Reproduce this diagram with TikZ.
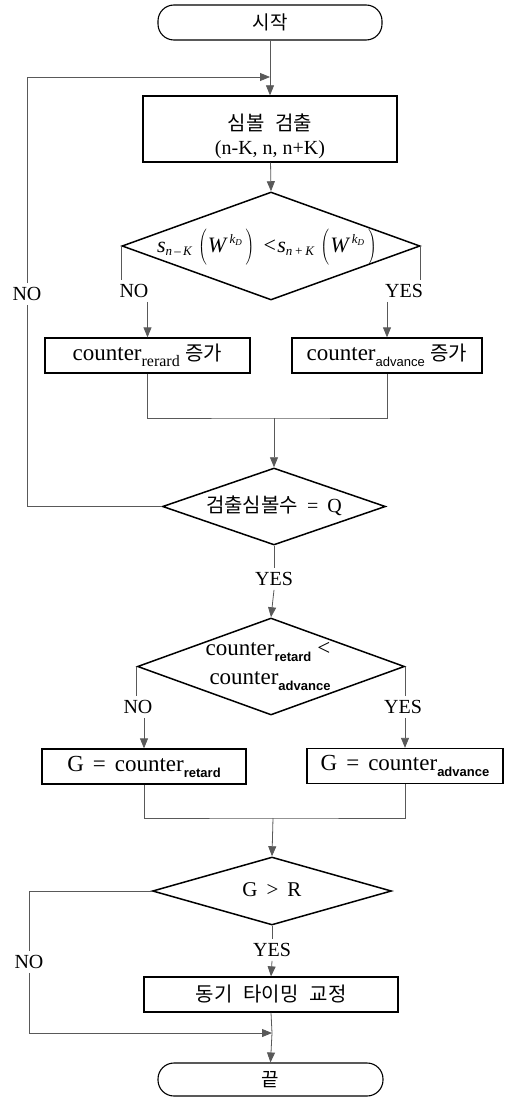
\documentclass[tikz,border=0pt]{standalone}
\usepackage{fontspec}
\setmainfont{Liberation Serif}
\setsansfont{Liberation Sans}
\newfontfamily\kr{Noto Sans CJK KR}
\usetikzlibrary{shapes.geometric,arrows.meta}
\newcommand{\sbserif}[1]{\raisebox{-6pt}{\fontsize{16}{16}\selectfont #1}}
\newcommand{\sbsans}[1]{\raisebox{-6pt}{\sffamily\fontsize{13}{13}\selectfont #1}}
\newcommand{\sbbold}[1]{\raisebox{-6pt}{\sffamily\bfseries\fontsize{13}{13}\selectfont #1}}
\newcommand{\sarg}[1]{\hbox{\itshape s}_{\hbox{\fontsize{13}{13}\selectfont\itshape #1}}\mskip2mu\left(\vrule height 25pt depth 6pt width 0pt\mskip1mu\hbox{\itshape W\/}^{\mskip2mu\hbox{\fontsize{13}{13}\selectfont\itshape k\raisebox{-2.5pt}{\fontsize{9}{9}\selectfont D}}}\mskip3mu\right)}
\begin{document}
\begin{tikzpicture}[x=1pt,y=-1pt,
  conn/.style={draw=black!65, line width=0.8pt},
  arr/.style={conn, -{Triangle[length=10pt,width=8pt]}},
  term/.style={draw, line width=1.1pt, rounded corners=16pt, minimum width=224pt, minimum height=35pt, inner sep=0pt, font=\kr\fontsize{19}{21}\selectfont},
  proc/.style={draw, line width=1.3pt, minimum height=35pt, inner sep=0pt, font=\fontsize{23}{26}\selectfont},
  dia/.style={draw, diamond, line width=1.5pt, inner sep=0pt},
  dtext/.style={inner sep=0pt, font=\fontsize{20}{24}\selectfont},
  lbl/.style={inner sep=4pt, font=\fontsize{20}{22}\selectfont}
]
\useasboundingbox (0,0) rectangle (510,1097);

% nodes
\node[term] (start) at (270,22.5) {시작};
\coordinate (j1) at (270,77);
\node[proc, minimum width=254pt, minimum height=66pt] (b1) at (270,129) {};
\node[dtext, align=center, font=\fontsize{20}{24}\selectfont] (b1t) at (270,136)
  {{\kr\fontsize{20}{24}\selectfont 심볼\hspace{11pt}검출}\\(n-K, n, n+K)};

\node[dia, minimum width=298pt, minimum height=108pt] (d1) at (271,246) {};
\node[dtext, font=\fontsize{22}{24}\selectfont] (d1t) at (267,246) {$\sarg{n\,--\,K}\mskip5mu\hbox{<}\mskip1mu\sarg{n\,+\,K}$};
\node[lbl] (no1) at (134,291) {NO};
\node[lbl] (yes1) at (404,291) {YES};

\node[proc, minimum width=205pt] (lb) at (147.5,355.5) {counter\sbserif{rerard} {\kr\fontsize{20}{22}\selectfont 증가}};
\node[proc, minimum width=190pt] (rb) at (387,355.5) {counter\sbsans{advance} {\kr\fontsize{20}{22}\selectfont 증가}};
\coordinate (m1) at (274,418);

\node[dia, minimum width=223pt, minimum height=77pt] (d2) at (274,506.5) {};
\node[dtext] (d2t) at (274,506) {{\kr\fontsize{20}{22}\selectfont 검출심볼수}\hspace{9pt}=\hspace{9pt}Q};
\node[lbl] (no0) at (27,294) {NO};
\node[lbl] (yes2) at (274,579) {YES};

\node[dia, minimum width=267pt, minimum height=97pt] (d3) at (271,666.5) {};
\node[dtext, align=center, font=\fontsize{23}{29}\selectfont] (d3t) at (268,666) {counter\sbbold{retard}\hspace{6pt}<\\\hspace{4pt}counter\sbbold{advance}};
\node[lbl] (no2) at (138,707) {NO};
\node[lbl] (yes3) at (403,707) {YES};

\node[proc, minimum width=204pt] (gl) at (144,766.5) {G\hspace{9pt}=\hspace{9pt}counter\sbbold{retard}};
\node[proc, minimum width=196pt] (gr) at (405,766) {G\hspace{9pt}=\hspace{9pt}counter\sbbold{advance}};
\coordinate (m2) at (273,818);

\node[dia, minimum width=239pt, minimum height=68pt] (d4) at (272,891) {};
\node[dtext, font=\fontsize{21}{24}\selectfont] (d4t) at (272,890) {G\hspace{9pt}>\hspace{9pt}R};
\node[lbl] (yes4) at (272,950) {YES};
\node[lbl] (no3) at (29,962) {NO};

\node[proc, minimum width=254pt] (fix) at (271,994.5) {\kr\fontsize{20}{22}\selectfont 동기\hspace{11pt}타이밍\hspace{11pt}교정};
\coordinate (j2) at (272,1033);
\node[term, minimum width=225pt, minimum height=33pt] (end) at (270.5,1079.5) {끝};

% connectors
\draw[conn] (start) -- (j1);
\draw[arr] (j1) -- (b1.north);
\draw[arr] (b1) -- (d1.north);
\draw[conn] (d1.west) -- (d1.west |- no1.north);
\draw[arr] (lb.north |- no1.south) -- (lb.north);
\draw[conn] (d1.east) -- (d1.east |- yes1.north);
\draw[arr] (rb.north |- yes1.south) -- (rb.north);
\draw[conn] (lb.south) |- (m1) -| (rb.south);
\draw[arr] (m1) -- (d2.north);
\draw[conn] (d2.west) -| (no0.south);
\draw[arr] (no0.north) |- (j1);
\draw[conn] (d2.south) -- (yes2.north);
\draw[arr] (yes2.south) -- (d3.north);
\draw[conn] (d3.west) -- (d3.west |- no2.north);
\draw[arr] (gl.north |- no2.south) -- (gl.north);
\draw[conn] (d3.east) -- (d3.east |- yes3.north);
\draw[arr] (gr.north |- yes3.south) -- (gr.north);
\draw[conn] (gl.south) |- (m2) -| (gr.south);
\draw[arr] (m2) -- (d4.north);
\draw[conn] (d4.south) -- (yes4.north);
\draw[arr] (yes4.south) -- (fix.north);
\draw[conn] (fix.south) -- (j2);
\draw[arr] (j2) -- (end.north);
\draw[conn] (d4.west) -| (no3.north);
\draw[arr] (no3.south) |- (j2);
\end{tikzpicture}
\end{document}
